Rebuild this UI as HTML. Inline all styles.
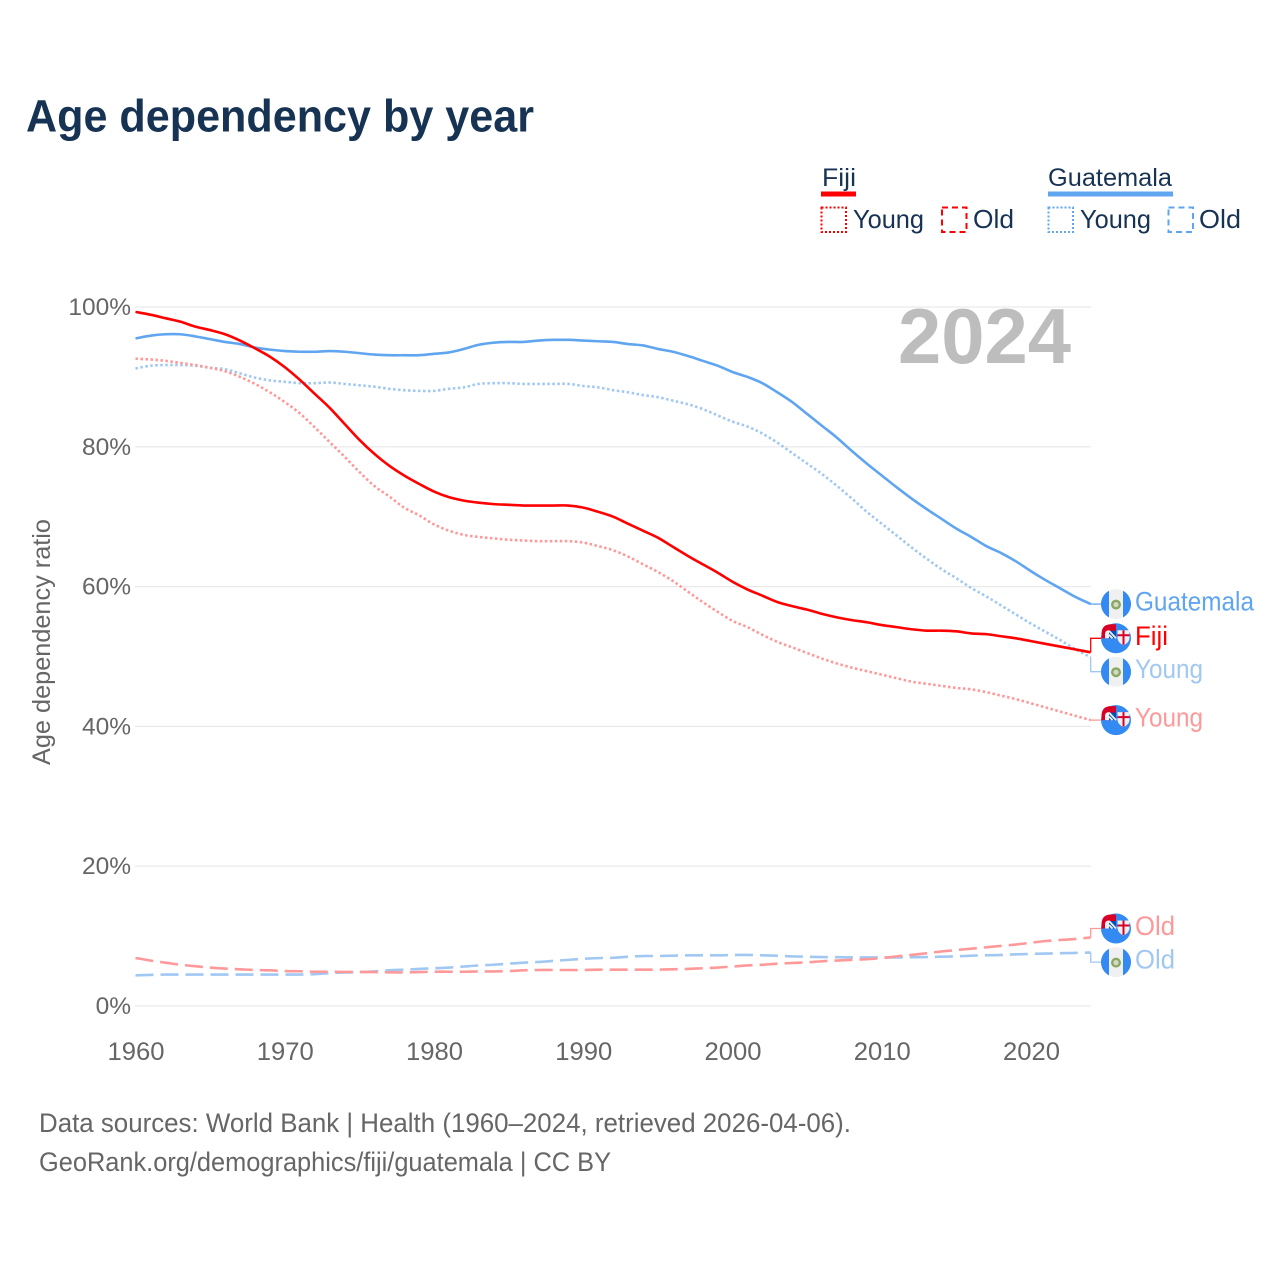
<!DOCTYPE html>
<html lang="en">
<head>
<meta charset="utf-8">
<title>Age dependency by year</title>
<style>
html,body{margin:0;padding:0;background:#fff;}
svg{display:block;font-family:"Liberation Sans",sans-serif;}
</style>
</head>
<body>
<svg id="chart" xmlns="http://www.w3.org/2000/svg" width="1280" height="1280" viewBox="0 0 1280 1280">
  <rect x="0" y="0" width="1280" height="1280" fill="#fff"/>
  <text x="26" y="131.5" font-size="45" font-weight="700" fill="#173354" textLength="508" lengthAdjust="spacingAndGlyphs">Age dependency by year</text>

  <g>
    <text x="822" y="186" font-size="25" fill="#173354" textLength="34" lengthAdjust="spacingAndGlyphs">Fiji</text>
    <rect x="821" y="191.5" width="35" height="5" fill="#ff0000"/>
    <rect x="821.5" y="207.5" width="24.5" height="24.5" fill="none" stroke="#ff0000" stroke-width="2" stroke-dasharray="2 2"/>
    <text x="853" y="228" font-size="26" fill="#173354" textLength="71" lengthAdjust="spacingAndGlyphs">Young</text>
    <rect x="942" y="207.5" width="24.5" height="24.5" fill="none" stroke="#ff0000" stroke-width="2" stroke-dasharray="6 4"/>
    <text x="973" y="228" font-size="26" fill="#173354" textLength="41" lengthAdjust="spacingAndGlyphs">Old</text>

    <text x="1048" y="186" font-size="25" fill="#173354" textLength="124" lengthAdjust="spacingAndGlyphs">Guatemala</text>
    <rect x="1048" y="191.5" width="125" height="5" fill="#60a5f0"/>
    <rect x="1048.5" y="207.5" width="24.5" height="24.5" fill="none" stroke="#60a5f0" stroke-width="2" stroke-dasharray="2 2"/>
    <text x="1080" y="228" font-size="26" fill="#173354" textLength="71" lengthAdjust="spacingAndGlyphs">Young</text>
    <rect x="1168.5" y="207.5" width="24.5" height="24.5" fill="none" stroke="#60a5f0" stroke-width="2" stroke-dasharray="6 4"/>
    <text x="1199" y="228" font-size="26" fill="#173354" textLength="42" lengthAdjust="spacingAndGlyphs">Old</text>
  </g>

  <g id="grid"></g>
  <g id="yticks"></g>
  <g id="xticks"></g>

  <text x="50" y="642" font-size="25" fill="#666666" text-anchor="middle" textLength="246" lengthAdjust="spacingAndGlyphs" transform="rotate(-90 50 642)">Age dependency ratio</text>
  <text x="898" y="363" font-size="78" font-weight="700" fill="#bdbdbd" textLength="173" lengthAdjust="spacingAndGlyphs">2024</text>

  <g id="series"></g>
  <g id="labels"></g>

  <text x="39" y="1132" font-size="26.5" fill="#666666" textLength="812" lengthAdjust="spacingAndGlyphs">Data sources: World Bank | Health (1960–2024, retrieved 2026-04-06).</text>
  <text x="39" y="1171" font-size="26.5" fill="#666666" textLength="572" lengthAdjust="spacingAndGlyphs">GeoRank.org/demographics/fiji/guatemala | CC BY</text>
</svg>
<script>
const startYear = 1960;
const xTickYears = [1960, 1970, 1980, 1990, 2000, 2010, 2020];
const yTickValues = [0, 20, 40, 60, 80, 100];

const fijiTotal = [
  99.3,98.9,98.4,97.9,97.2,96.7,96.1,95.2,94.1,92.9,
  91.4,89.6,87.6,85.6,83.3,81.0,79.0,77.3,75.9,74.7,
  73.6,72.8,72.3,72.0,71.8,71.7,71.6,71.6,71.6,71.6,
  71.3,70.7,70.0,69.0,68.0,67.0,65.7,64.4,63.2,62.0,
  60.7,59.6,58.7,57.8,57.2,56.7,56.1,55.6,55.2,54.9,
  54.5,54.2,53.9,53.7,53.7,53.6,53.3,53.2,52.9,52.6,
  52.2,51.8,51.4,51.0,50.6
];
const fijiYoung = [
  92.6,92.5,92.3,92.0,91.7,91.3,90.8,90.0,89.0,87.8,
  86.4,84.8,82.8,80.7,78.6,76.4,74.4,72.9,71.3,70.2,
  68.9,68.0,67.4,67.1,66.9,66.7,66.6,66.5,66.5,66.5,
  66.3,65.8,65.2,64.3,63.2,62.1,60.8,59.3,57.8,56.4,
  55.1,54.2,53.1,52.1,51.3,50.5,49.7,49.0,48.4,47.9,
  47.4,46.9,46.4,46.1,45.8,45.5,45.3,44.9,44.4,43.9,
  43.3,42.7,42.1,41.5,40.9
];
const fijiOld = [
  6.87,6.5,6.2,5.9,5.7,5.5,5.35,5.25,5.15,5.1,
  5.0,4.97,4.9,4.9,4.87,4.87,4.85,4.82,4.8,4.85,
  4.9,4.9,4.9,4.95,4.95,5.0,5.1,5.15,5.15,5.15,
  5.15,5.2,5.2,5.2,5.2,5.2,5.25,5.3,5.4,5.5,
  5.65,5.8,5.9,6.05,6.15,6.25,6.4,6.5,6.6,6.7,
  6.85,7.1,7.3,7.55,7.8,8.0,8.2,8.4,8.6,8.8,
  9.05,9.3,9.45,9.6,9.8
];
const guatemalaTotal = [
  95.5,95.9,96.1,96.1,95.8,95.4,95.0,94.7,94.2,93.9,
  93.7,93.6,93.6,93.7,93.6,93.4,93.2,93.1,93.1,93.1,
  93.3,93.5,94.0,94.6,94.9,95.0,95.0,95.2,95.3,95.3,
  95.2,95.1,95.0,94.7,94.5,94.0,93.6,93.0,92.3,91.6,
  90.7,90.0,89.1,87.8,86.4,84.7,83.0,81.3,79.4,77.6,
  75.9,74.2,72.6,71.1,69.7,68.3,67.1,65.8,64.8,63.6,
  62.2,60.9,59.7,58.5,57.5
];
const guatemalaYoung = [
  91.2,91.6,91.7,91.7,91.6,91.3,91.1,90.5,89.9,89.5,
  89.3,89.1,89.1,89.2,89.0,88.8,88.6,88.3,88.1,88.0,
  88.0,88.3,88.5,89.0,89.1,89.1,89.0,89.0,89.0,89.0,
  88.7,88.5,88.1,87.8,87.4,87.1,86.6,86.1,85.4,84.5,
  83.6,82.9,81.9,80.6,79.1,77.6,76.1,74.4,72.6,70.7,
  69.0,67.3,65.6,64.0,62.5,61.2,59.8,58.6,57.3,56.0,
  54.7,53.5,52.3,51.0,49.9
];
const guatemalaOld = [
  4.39,4.45,4.5,4.5,4.5,4.5,4.5,4.5,4.5,4.5,
  4.5,4.5,4.55,4.7,4.8,4.85,4.95,5.1,5.2,5.3,
  5.4,5.5,5.65,5.8,5.9,6.05,6.2,6.3,6.45,6.6,
  6.75,6.85,6.9,7.05,7.15,7.15,7.2,7.25,7.25,7.25,
  7.3,7.3,7.25,7.2,7.1,7.05,7.0,6.98,6.95,6.95,
  6.95,6.95,6.98,7.0,7.05,7.1,7.2,7.25,7.3,7.4,
  7.45,7.5,7.55,7.6,7.65
];

const NS = 'http://www.w3.org/2000/svg';
const xScale = function (year) { return 135.5 + (year - startYear) * 14.925; };
const yScale = function (value) { return 1006 - value * 6.99; };
const endX = xScale(startYear + fijiTotal.length - 1);

function make(tag, attrs, parent) {
  const el = document.createElementNS(NS, tag);
  Object.keys(attrs).forEach(function (k) { el.setAttribute(k, attrs[k]); });
  parent.appendChild(el);
  return el;
}

const gridG = document.getElementById('grid');
const yG = document.getElementById('yticks');
const xG = document.getElementById('xticks');
const seriesG = document.getElementById('series');
const labelsG = document.getElementById('labels');

yTickValues.forEach(function (v) {
  const line = make('line', { x1: 135, x2: 1091, y1: yScale(v), y2: yScale(v), stroke: '#e9e9e9', 'stroke-width': 1.2 }, gridG);
  
  
  const t = make('text', { x: 131, y: yScale(v) + 8, 'font-size': 24.5, fill: '#666666', 'text-anchor': 'end' }, yG);
  t.textContent = v + '%';
  
  
});

xTickYears.forEach(function (yr) {
  const t = make('text', { x: xScale(yr) + 0.5, y: 1060, 'font-size': 25, fill: '#666666', 'text-anchor': 'middle', textLength: 57, lengthAdjust: 'spacingAndGlyphs' }, xG);
  t.textContent = String(yr);
  
  
});

function drawFijiFlag(cx, cy, slug) {
  const g = make('g', { transform: 'translate(' + cx + ' ' + cy + ')' }, labelsG);
  
  
  make('circle', { cx: 0, cy: 0, r: 15, fill: '#338af3' }, g);
  make('path', { d: 'M-14.5 0 V-5 Q-14 -14 -5 -14 H0 V0 Z', fill: '#d80027' }, g);
  make('path', { d: 'M-11 0 V-4 Q-11 -8 -7 -8 V0 Z', fill: '#f0f0f0' }, g);
  make('rect', { x: -7, y: -7.5, width: 7, height: 7.5, fill: '#0052b4' }, g);
  make('path', { d: 'M-7 -7.5 L0 0 M-7 -3.5 L-3.5 0', stroke: '#f0f0f0', 'stroke-width': 1.8, fill: 'none' }, g);
  make('path', { d: 'M1.5 -8 H13.5 V0 Q13 4.5 7.5 7 Q2 4.5 1.5 0 Z', fill: '#f0f0f0' }, g);
  make('path', { d: 'M7.5 -8 V6.5 M1.5 -3 H13.5', stroke: '#d80027', 'stroke-width': 2, fill: 'none' }, g);
}

function drawGuatemalaFlag(cx, cy, slug) {
  const g = make('g', { transform: 'translate(' + cx + ' ' + cy + ')' }, labelsG);
  
  
  make('circle', { cx: 0, cy: 0, r: 15, fill: '#f0f0f0' }, g);
  make('path', { d: 'M-7 -13.27 A15 15 0 0 0 -7 13.27 Z', fill: '#338af3' }, g);
  make('path', { d: 'M7 -13.27 A15 15 0 0 1 7 13.27 Z', fill: '#338af3' }, g);
  make('circle', { cx: 0, cy: 0.5, r: 3.8, fill: '#d6d9c8', stroke: '#8aa862', 'stroke-width': 2.4 }, g);
}

function smoothPath(values) {
  const pts = values.map(function (v, i) { return [xScale(startYear + i), yScale(v)]; });
  let d = 'M' + pts[0][0].toFixed(2) + ' ' + pts[0][1].toFixed(2);
  for (let i = 0; i < pts.length - 1; i++) {
    const p0 = pts[Math.max(i - 1, 0)];
    const p1 = pts[i];
    const p2 = pts[i + 1];
    const p3 = pts[Math.min(i + 2, pts.length - 1)];
    const c1x = p1[0] + (p2[0] - p0[0]) / 6;
    const c1y = p1[1] + (p2[1] - p0[1]) / 6;
    const c2x = p2[0] - (p3[0] - p1[0]) / 6;
    const c2y = p2[1] - (p3[1] - p1[1]) / 6;
    d += ' C' + c1x.toFixed(2) + ' ' + c1y.toFixed(2) + ' ' + c2x.toFixed(2) + ' ' + c2y.toFixed(2) + ' ' + p2[0].toFixed(2) + ' ' + p2[1].toFixed(2);
  }
  return d;
}

function drawSeries(cfg) {
  const values = cfg.values;
  const lastY = yScale(values[values.length - 1]);
  const labelY = lastY + cfg.labelOffset;
  const attrs = { d: smoothPath(values), fill: 'none', stroke: cfg.color, 'stroke-width': 2.6, 'stroke-linejoin': 'round' };
  if (cfg.dash) { attrs['stroke-dasharray'] = cfg.dash; }
  const path = make('path', attrs, seriesG);
  
  

  const conn = make('path', {
    d: 'M' + endX + ' ' + lastY + ' V' + labelY + ' H1101',
    fill: 'none', stroke: cfg.color, 'stroke-width': 1.3
  }, seriesG);
  
  

  cfg.flag(1116, labelY, cfg.slug + '-flag');

  const t = make('text', { x: 1135, y: labelY + 6.5, 'font-size': 26.5, fill: cfg.color, textLength: cfg.labelWidth, lengthAdjust: 'spacingAndGlyphs' }, labelsG);
  t.textContent = cfg.label;
  
  
}

const RED = '#ff0000', RED_LIGHT = '#ff9999', BLUE = '#60a5f0', BLUE_LIGHT = '#a0c8f2';
const DOT = '2.5 2.5', DASH = '18 7';

drawSeries({ values: guatemalaOld, color: BLUE_LIGHT, dash: DASH, slug: 'guatemala-old', label: 'Old', labelWidth: 40, labelOffset: 9.6, flag: drawGuatemalaFlag });
drawSeries({ values: fijiOld, color: RED_LIGHT, dash: DASH, slug: 'fiji-old', label: 'Old', labelWidth: 40, labelOffset: -9, flag: drawFijiFlag });
drawSeries({ values: guatemalaYoung, color: BLUE_LIGHT, dash: DOT, slug: 'guatemala-young', label: 'Young', labelWidth: 68, labelOffset: 14.5, flag: drawGuatemalaFlag });
drawSeries({ values: fijiYoung, color: RED_LIGHT, dash: DOT, slug: 'fiji-young', label: 'Young', labelWidth: 68, labelOffset: 0, flag: drawFijiFlag });
drawSeries({ values: guatemalaTotal, color: BLUE, dash: null, slug: 'guatemala-total', label: 'Guatemala', labelWidth: 119, labelOffset: 0, flag: drawGuatemalaFlag });
drawSeries({ values: fijiTotal, color: RED, dash: null, slug: 'fiji-total', label: 'Fiji', labelWidth: 33, labelOffset: -14, flag: drawFijiFlag });
</script>
</body>
</html>
